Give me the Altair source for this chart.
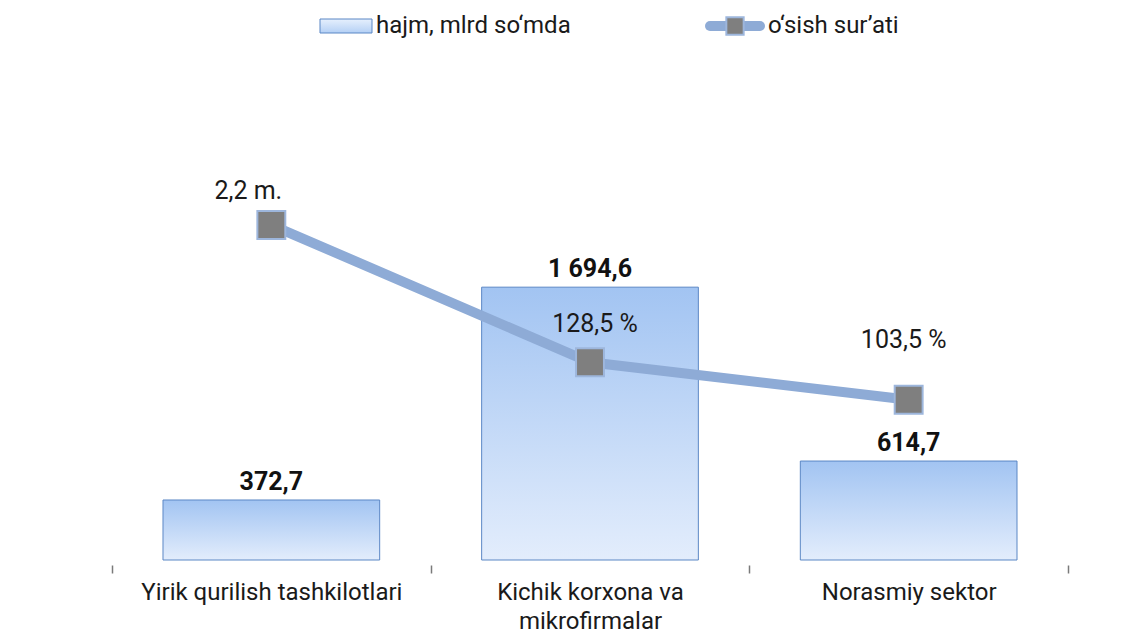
import altair as alt
import pandas as pd

categories = ["Yirik qurilish tashkilotlari", "Kichik korxona va mikrofirmalar", "Norasmiy sektor"]
volume = [372.7, 1694.6, 614.7]
volume_labels = ["372,7", "1 694,6", "614,7"]
growth = [2.2, 1.285, 1.035]
growth_labels = ["2,2 m.", "128,5 %", "103,5 %"]
legend_names = ["hajm, mlrd so‘mda", "o‘sish sur’ati"]

FONT = "Roboto, sans-serif"

df = pd.DataFrame({
    "cat": categories,
    "volume": volume,
    "vlabel": volume_labels,
    "growth": growth,
    "glabel": growth_labels,
})
leg = pd.DataFrame({"a": [0]})

label_expr = ("datum.label == 'Kichik korxona va mikrofirmalar' ? "
              "['Kichik korxona va', 'mikrofirmalar'] : datum.label")

xs = alt.Scale(type="band", paddingInner=0.32, paddingOuter=0.16)
xb = alt.X("cat:N", sort=categories, scale=xs, axis=None)
xc = alt.X("cat:N", sort=categories, scale=xs, axis=None, bandPosition=0.5)

base = alt.Chart(df)

# axis layer: band boundaries as ticks
axis_layer = base.mark_point(opacity=0).encode(
    x=alt.X("cat:N", sort=categories, title=None,
            scale=alt.Scale(type="band", paddingInner=0, paddingOuter=0),
            axis=alt.Axis(labelAngle=0, domain=False, tickBand="extent", offset=5,
                          tickSize=8, tickColor="#7a7a7a", tickWidth=1.5,
                          labelFontSize=24, labelColor="#1a1a1a", labelFont=FONT,
                          labelPadding=7, labelLineHeight=29, labelExpr=label_expr,
                          labelBaseline="top", labelLimit=0)))

grad = alt.Gradient(gradient="linear", x1=0, x2=0, y1=0, y2=1,
                    stops=[alt.GradientStop(color="#a2c4f2", offset=0),
                           alt.GradientStop(color="#e3edfc", offset=1)])

yv = alt.Y("volume:Q", scale=alt.Scale(domain=[0, 3000]), axis=None)
bars = base.mark_bar(color=grad, stroke="#5b87c5", strokeWidth=1).encode(x=xb, y=yv)
bar_text = base.mark_text(dy=-10, fontSize=25, fontWeight="bold", font=FONT,
                          color="#111", baseline="alphabetic").encode(x=xc, y=yv, text="vlabel:N")
left = alt.layer(bars, bar_text)

yg = alt.Y("growth:Q", scale=alt.Scale(domain=[-0.033, 3.187]), axis=None)
line = base.mark_line(color="#8eabd6", strokeWidth=10).encode(x=xc, y=yg)
pts = base.mark_point(shape="square", filled=True, size=780, fill="#7f7f7f",
                      stroke="#9db6dc", strokeWidth=2, opacity=1).encode(x=xc, y=yg)
t_common = dict(fontSize=25, font=FONT, color="#1a1a1a", baseline="alphabetic")
gt1 = base.transform_filter(alt.datum.cat == categories[0]).mark_text(
    dx=-23, dy=-26, **t_common).encode(x=xc, y=yg, text="glabel:N")
gt2 = base.transform_filter(alt.datum.cat == categories[1]).mark_text(
    dx=5, dy=-30, **t_common).encode(x=xc, y=yg, text="glabel:N")
gt3 = base.transform_filter(alt.datum.cat == categories[2]).mark_text(
    dx=-5, dy=-52, **t_common).encode(x=xc, y=yg, text="glabel:N")
right = alt.layer(line, pts, gt1, gt2, gt3)

lb = alt.Chart(leg)
leg_rect = lb.mark_rect(color=alt.Gradient(gradient="linear", x1=0, x2=0, y1=0, y2=1,
                        stops=[alt.GradientStop(color="#e6f0fd", offset=0),
                               alt.GradientStop(color="#b4d0f5", offset=1)]),
                        stroke="#5b87c5", strokeWidth=1).encode(
    x=alt.value(208), x2=alt.value(260), y=alt.value(-58), y2=alt.value(-44))
leg_t1 = lb.mark_text(align="left", baseline="middle", fontSize=24, font=FONT,
                      color="#1a1a1a").encode(
    x=alt.value(264), y=alt.value(-51), text=alt.value(legend_names[0]))
leg_line = lb.mark_rule(color="#8eabd6", strokeWidth=10, strokeCap="round").encode(
    x=alt.value(598), x2=alt.value(648), y=alt.value(-51))
leg_sq = lb.mark_point(shape="square", filled=True, size=300, fill="#7f7f7f",
                       stroke="#9db6dc", strokeWidth=2, opacity=1).encode(
    x=alt.value(623), y=alt.value(-51))
leg_t2 = lb.mark_text(align="left", baseline="middle", fontSize=24, font=FONT,
                      color="#1a1a1a").encode(
    x=alt.value(656), y=alt.value(-51), text=alt.value(legend_names[1]))

chart = alt.layer(axis_layer, left, right, leg_rect, leg_t1, leg_line, leg_sq, leg_t2).resolve_scale(
    x="independent", y="independent"
).properties(
    width=956, height=483,
    background="white",
    autosize=alt.AutoSizeParams(type="none"),
    padding={"left": 104, "top": 69, "right": 49, "bottom": 78},
).configure_view(stroke=None)

chart.save("out.html", embed_options={"renderer": "svg", "actions": False})
